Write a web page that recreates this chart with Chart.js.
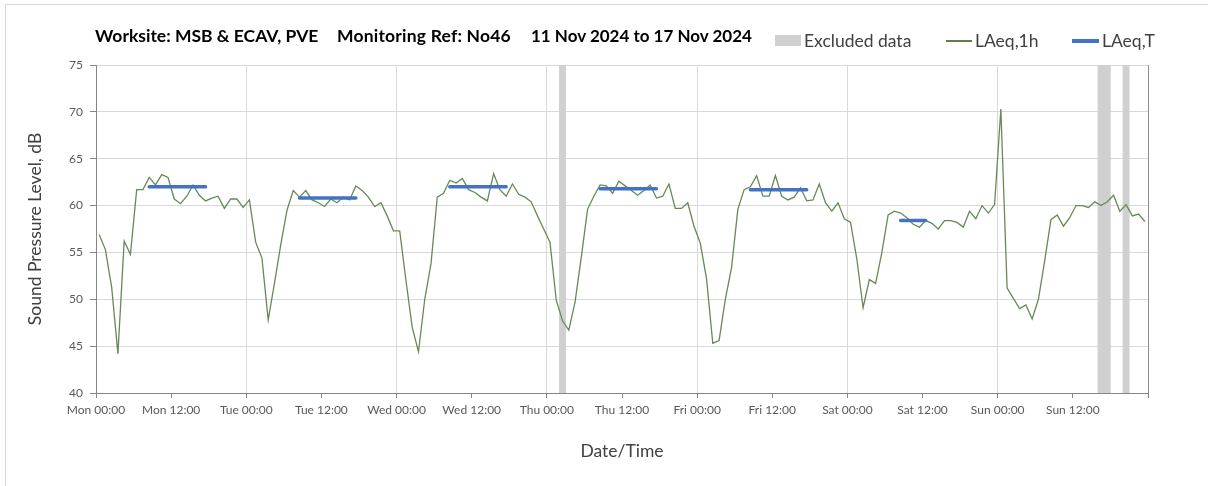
<!DOCTYPE html>
<html>
<head>
<meta charset="utf-8">
<script src="https://cdn.jsdelivr.net/npm/chart.js@4.4.1/dist/chart.umd.min.js"></script>
<style>
html, body { margin: 0; padding: 0; background: #fff; }
#wrap { position: relative; width: 1208px; height: 486px; overflow: hidden; font-family: Lato, sans-serif; }
#frame { position: absolute; left: 5px; top: 4px; width: 1400px; height: 700px; border-left: 1px solid #d9d9d9; border-top: 1px solid #d9d9d9; }
#chart { position: absolute; left: 0; top: 0; }
.t { position: absolute; top: 26px; font-weight: bold; font-size: 17.5px; line-height: 20px; color: #000; white-space: pre; }
.lg { position: absolute; top: 30px; font-size: 17.5px; line-height: 21px; color: #404040; white-space: pre; }
.sw { position: absolute; }
</style>
</head>
<body>
<div id="wrap">
  <div id="frame"></div>
  <canvas id="chart" width="1208" height="486"></canvas>
  <div class="t" style="left:95px">Worksite: MSB &amp; ECAV, PVE</div>
  <div class="t" style="left:337px;letter-spacing:0.2px">Monitoring Ref: No46</div>
  <div class="t" style="left:531px;font-size:17px">11 Nov 2024 to 17 Nov 2024</div>
  <div class="sw" style="left:775px;top:35px;width:26px;height:11px;background:#d0d0d0"></div>
  <div class="lg" style="left:804px">Excluded data</div>
  <div class="sw" style="left:946px;top:40px;width:26px;height:1.5px;background:#5f8048"></div>
  <div class="lg" style="left:975px">LAeq,1h</div>
  <div class="sw" style="left:1072px;top:39px;width:27px;height:3.5px;background:#4472C4"></div>
  <div class="lg" style="left:1102px">LAeq,T</div>
</div>
<script>
// Hourly LAeq,1h values (dB), Mon 00:00 .. Sun 23:00, 11-17 Nov 2024
const LAeq1h = [
  56.9, 55.3, 51.3, 44.2, 56.2, 54.8, 61.7, 61.7, 63.0, 62.2, 63.3, 63.0,
  60.7, 60.2, 61.0, 62.2, 61.1, 60.5, 60.8, 61.0, 59.7, 60.7, 60.7, 59.8,
  60.6, 56.1, 54.4, 47.8, 51.7, 55.8, 59.5, 61.6, 60.9, 61.6, 60.6, 60.3,
  59.9, 60.7, 60.3, 60.9, 60.6, 62.1, 61.6, 60.9, 59.9, 60.3, 58.9, 57.3,
  57.3, 52.0, 47.0, 44.4, 50.0, 53.8, 60.9, 61.3, 62.7, 62.4, 62.9, 61.7,
  61.4, 60.9, 60.5, 63.4, 61.7, 61.0, 62.3, 61.2, 60.9, 60.4, 58.9, 57.5,
  56.1, 49.9, 47.7, 46.7, 49.7, 54.5, 59.6, 61.0, 62.2, 62.1, 61.3, 62.6,
  62.1, 61.6, 61.1, 61.6, 62.2, 60.8, 61.0, 62.3, 59.7, 59.7, 60.3, 57.8,
  56.0, 52.2, 45.3, 45.6, 50.0, 53.4, 59.6, 61.7, 62.0, 63.2, 61.0, 61.0,
  63.2, 61.0, 60.6, 60.9, 61.9, 60.5, 60.6, 62.3, 60.3, 59.4, 60.3, 58.6,
  58.2, 54.3, 49.1, 52.1, 51.7, 55.0, 59.0, 59.4, 59.2, 58.7, 58.0, 57.7,
  58.4, 58.1, 57.5, 58.4, 58.4, 58.2, 57.7, 59.4, 58.6, 60.0, 59.2, 60.1,
  70.3, 51.2, 50.1, 49.0, 49.4, 47.9, 50.0, 54.1, 58.5, 59.0, 57.8, 58.7,
  60.0, 60.0, 59.8, 60.4, 60.0, 60.4, 61.1, 59.4, 60.1, 58.9, 59.1, 58.3
];

// LAeq,T assessment periods: first hour, last hour (hour index from Mon 00:00) and level (dB)
const periodStart = [8, 32, 56, 80, 104, 128];
const periodEnd   = [17, 41, 65, 89, 113, 132];
const periodLevel = [62.0, 60.8, 62.0, 61.8, 61.7, 58.4];

// Excluded hours (hour index from Mon 00:00)
const excludedHours = [74, 160, 161, 164];

// X-axis tick labels every 12 hours
const tickLabels = ['Mon 00:00', 'Mon 12:00', 'Tue 00:00', 'Tue 12:00', 'Wed 00:00', 'Wed 12:00',
  'Thu 00:00', 'Thu 12:00', 'Fri 00:00', 'Fri 12:00', 'Sat 00:00', 'Sat 12:00', 'Sun 00:00', 'Sun 12:00'];

// Build datasets (points at the centre of each hourly interval)
const hourlyPoints = LAeq1h.map((v, i) => ({ x: i + 0.5, y: v }));
const periodPoints = [];
periodStart.forEach((s, k) => {
  for (let h = s; h <= periodEnd[k]; h++) periodPoints.push({ x: h + 0.5, y: periodLevel[k] });
  periodPoints.push({ x: periodEnd[k] + 0.5, y: null });
});
const excludedPoints = excludedHours.map(h => ({ x: h + 0.5, y: 75 }));

Chart.defaults.font.family = 'Lato, sans-serif';

new Chart(document.getElementById('chart'), {
  type: 'line',
  data: {
    datasets: [
      { type: 'line', label: 'LAeq,T', data: periodPoints, borderColor: '#4472C4', borderWidth: 3.5,
        pointRadius: 0, spanGaps: false, borderCapStyle: 'round', tension: 0, order: 0 },
      { type: 'line', label: 'LAeq,1h', data: hourlyPoints, borderColor: '#668a55', borderWidth: 1.3,
        pointRadius: 0, tension: 0, order: 1 },
      { type: 'bar', label: 'Excluded data', data: excludedPoints, backgroundColor: '#d0d0d0',
        borderWidth: 0, barPercentage: 1, categoryPercentage: 1, order: 2 }
    ]
  },
  options: {
    responsive: false,
    animation: false,
    events: [],
    layout: { padding: { left: 0, right: 60, top: 65, bottom: 0 } },
    plugins: { legend: { display: false }, tooltip: { enabled: false }, title: { display: false } },
    scales: {
      x: {
        type: 'linear', min: 0, max: 168, offset: false,
        ticks: {
          stepSize: 12, autoSkip: false, maxRotation: 0, minRotation: 0, padding: 5,
          color: '#595959', font: { size: 12 },
          callback: (v, i) => (tickLabels[i] !== undefined ? tickLabels[i] : '')
        },
        grid: {
          offset: false,
          color: c => (c.tick && c.tick.value === 168) ? '#8c8c8c' : ((c.tick && c.tick.value % 24 === 0) ? '#d9d9d9' : 'rgba(0,0,0,0)'),
          tickColor: '#868686', tickLength: 5, lineWidth: 1
        },
        border: { color: '#868686', width: 1 },
        title: { display: true, text: 'Date/Time', color: '#404040', font: { size: 17.5 }, padding: { top: 0, bottom: 24 } },
        afterFit: s => { s.height = 93; }
      },
      y: {
        min: 40, max: 75,
        ticks: { stepSize: 5, padding: 7, color: '#595959', font: { size: 12 } },
        grid: { color: '#d9d9d9', tickColor: '#868686', tickLength: 6, lineWidth: 1, offset: false },
        border: { color: '#868686', width: 1 },
        title: { display: true, text: 'Sound Pressure Level, dB', color: '#404040', font: { size: 17.5 }, padding: { top: 25, bottom: 0 } },
        afterFit: s => { s.width = 96; }
      }
    }
  }
});
</script>
</body>
</html>
